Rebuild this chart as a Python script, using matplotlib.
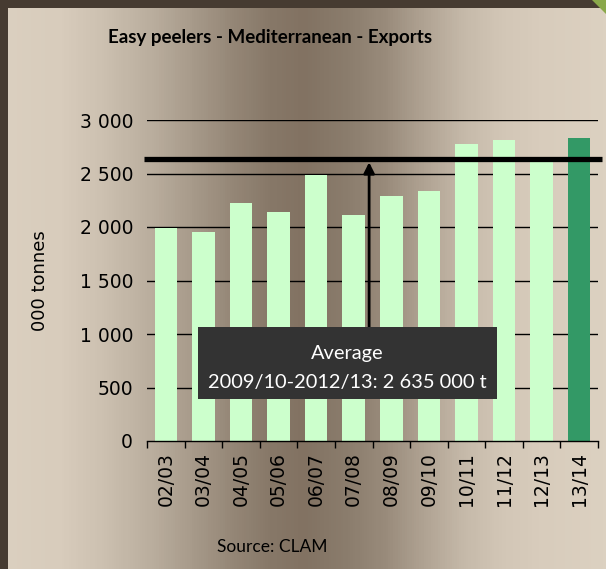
import matplotlib.pyplot as plt
import numpy as np
from matplotlib.colors import LinearSegmentedColormap
from matplotlib.patches import Rectangle, Polygon

# Marketing years and export volumes (000 tonnes)
seasons = ["02/03", "03/04", "04/05", "05/06", "06/07", "07/08",
           "08/09", "09/10", "10/11", "11/12", "12/13", "13/14"]
exports = [1990, 1950, 2220, 2140, 2485, 2110,
           2290, 2335, 2775, 2815, 2615, 2830]
avg_value = 2635  # average 2009/10-2012/13
y_ticks = [0, 500, 1000, 1500, 2000, 2500, 3000]

C_LIGHT = "#CCFFCC"
C_DARK = "#339966"
C_BOX = "#333333"
C_FRAME = "#463b31"

W, H = 606, 569
fig = plt.figure(figsize=(W / 100, H / 100), dpi=100)

# brown backdrop, darker towards the middle
bg = fig.add_axes([0, 0, 1, 1], zorder=-10)
bg.set_axis_off()
stops = [(0, "#dbd0c0"), (60, "#d8ccbc"), (100, "#cdc1b1"), (155, "#b8ac9c"),
         (232, "#958777"), (270, "#877868"), (305, "#827262"), (348, "#8b7d6d"),
         (386, "#998b7b"), (425, "#b0a393"), (464, "#c5b9a9"), (502, "#d2c6b6"),
         (541, "#d8ccbc"), (606, "#dcd1c1")]
cmap = LinearSegmentedColormap.from_list("bg", [(p / W, c) for p, c in stops])
grad = np.linspace(0, 1, W)[None, :]
bg.imshow(grad, cmap=cmap, aspect="auto", extent=[0, W, H, 0])
bg.add_patch(Rectangle((0, 0), 8, H, color=C_FRAME, lw=0))
bg.add_patch(Rectangle((0, 0), W, 8, color=C_FRAME, lw=0))
bg.add_patch(Polygon([[592, 0], [W, 0], [W, 14]], closed=True, color="#8aa84a", lw=0))
bg.set_xlim(0, W)
bg.set_ylim(H, 0)

ax = fig.add_axes([147 / W, 1 - 441 / H, (598 - 147) / W, (441 - 120) / H])
ax.patch.set_alpha(0)
x = np.arange(len(seasons))
colors = [C_LIGHT] * (len(seasons) - 1) + [C_DARK]
ax.bar(x, exports, width=0.6, color=colors, zorder=2)

ax.set_xlim(-0.5, len(seasons) - 0.5)
ax.set_ylim(0, 3000)
ax.set_yticks(y_ticks)
ax.set_yticklabels([f"{v:,}".replace(",", " ") for v in y_ticks],
                   fontsize=13.5, family="DejaVu Sans")
ax.set_xticks(x)
ax.set_xticklabels(seasons, rotation=90, fontsize=13.5, family="DejaVu Sans")
ax.set_xticks(np.arange(len(seasons) + 1) - 0.5, minor=True)
ax.tick_params(axis="x", which="major", length=0, pad=8)
ax.tick_params(axis="x", which="minor", length=5, width=1, direction="out")
ax.tick_params(axis="y", length=0, pad=10)
for v in y_ticks[1:]:
    ax.axhline(v, color="black", lw=1, zorder=1)
for s in ["top", "right", "left"]:
    ax.spines[s].set_visible(False)
ax.spines["bottom"].set_linewidth(1)
ax.set_ylabel("000 tonnes", fontsize=13, family="DejaVu Sans", labelpad=22)

# average line, slightly wider than the plot area
ax.plot([-0.58, len(seasons) - 0.4], [avg_value, avg_value], color="black",
        lw=3.8, solid_capstyle="butt", clip_on=False, zorder=4)

# callout box with arrow to the average
box_x0, box_x1 = 0.86, 8.81
box_y0, box_y1 = 393, 1065
ax.add_patch(Rectangle((box_x0, box_y0), box_x1 - box_x0, box_y1 - box_y0,
                       facecolor=C_BOX, edgecolor="none", zorder=5))
ax.annotate("", xy=(5.41, avg_value - 30), xytext=(5.41, box_y1),
            arrowprops=dict(arrowstyle="-|>", color="black", lw=2,
                            mutation_scale=16, shrinkA=0, shrinkB=0), zorder=3)
cx = (box_x0 + box_x1) / 2
label = f"{avg_value * 1000:,}".replace(",", " ")
ax.text(cx, 822, "Average", color="white", fontsize=14.4, family="Lato",
        ha="center", va="center", zorder=6)
ax.text(cx, 551, f"2009/10-2012/13: {label} t", color="white", fontsize=14.4,
        family="Lato", ha="center", va="center", zorder=6)

fig.text(270 / W, 1 - 37 / H, "Easy peelers - Mediterranean - Exports",
         fontsize=13.5, fontweight="bold", family="Lato", ha="center", va="center")
fig.text(272 / W, 1 - 547 / H, "Source: CLAM", fontsize=12.5, family="Lato",
         ha="center", va="center")

fig.savefig("out.png", dpi=100)
